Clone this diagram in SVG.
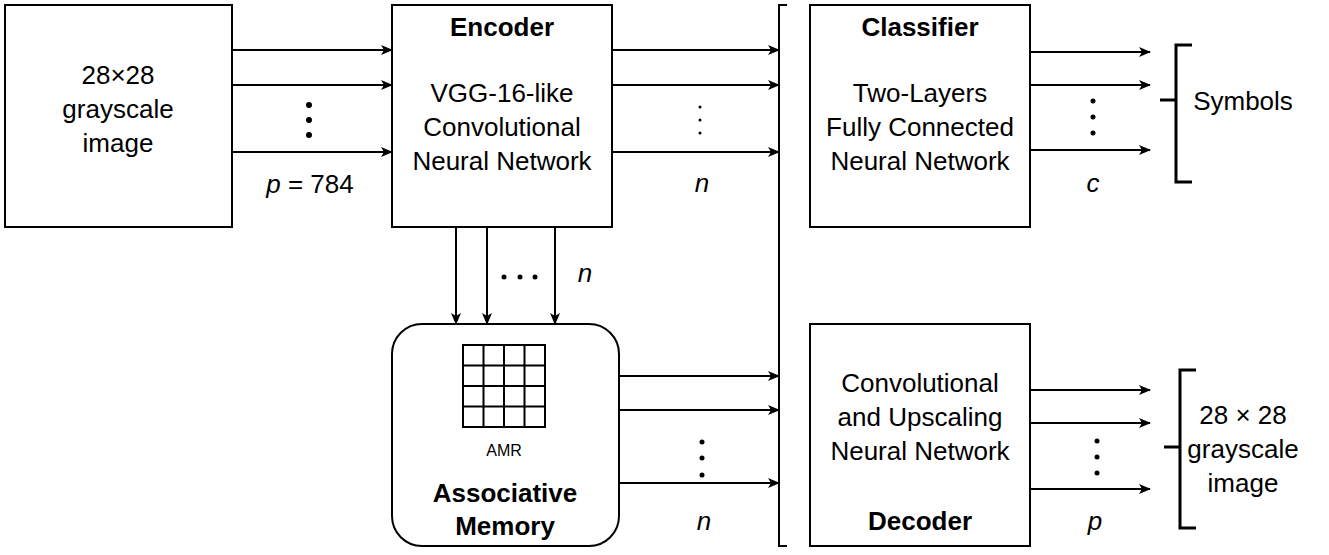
<svg xmlns="http://www.w3.org/2000/svg" width="1329" height="555" viewBox="0 0 1329 555">
<style>
.b{fill:#fff;stroke:#000;stroke-width:2}
.l{stroke:#000;stroke-width:2;fill:none}
.c path{stroke:#000;stroke-width:2;fill:none;marker-end:url(#a)}
text{font-family:"Liberation Sans",Arial,sans-serif;font-size:26px;text-anchor:middle;fill:#000}
.t{font-weight:bold}
.i{font-style:italic}
.d{fill:#000}
</style>
<defs><marker id="a" markerWidth="12" markerHeight="10" refX="11" refY="5" orient="auto" markerUnits="userSpaceOnUse"><path d="M0,0L12,5L0,10L3,5z" fill="#000" stroke="none"/></marker></defs>
<rect width="1329" height="555" fill="#fff"/>
<g id="input"><rect class="b" x="5" y="5" width="227" height="222"/><text x="118" y="84">28×28</text><text x="118" y="118">grayscale</text><text x="118" y="152">image</text></g>
<g id="encoder"><rect class="b" x="392" y="5" width="220" height="222"/><text class="t" x="502" y="36">Encoder</text><text x="502" y="102">VGG-16-like</text><text x="502" y="136">Convolutional</text><text x="502" y="170">Neural Network</text></g>
<g id="classifier"><rect class="b" x="810" y="5" width="220" height="222"/><text class="t" x="920" y="36">Classifier</text><text x="920" y="102">Two-Layers</text><text x="920" y="136">Fully Connected</text><text x="920" y="170">Neural Network</text></g>
<g id="decoder"><rect class="b" x="810" y="324" width="220" height="222"/><text x="920" y="392">Convolutional</text><text x="920" y="426">and Upscaling</text><text x="920" y="460">Neural Network</text><text class="t" x="920" y="530">Decoder</text></g>
<g id="memory"><rect class="b" x="392" y="324" width="227" height="222" rx="30"/>
<path class="l" d="M463,345h82v82h-82zM463,365.5h82M463,386h82M463,406.5h82M483.5,345v82M504,345v82M524.5,345v82"/>
<text x="504" y="456" style="font-size:16px">AMR</text><text class="t" x="505" y="502">Associative</text><text class="t" x="505" y="535">Memory</text></g>
<g id="connectors" class="c">
<path d="M232,50H392"/><path d="M232,85H392"/><path d="M232,152H392"/>
<path d="M612,50H779"/><path d="M612,85H779"/><path d="M612,152H779"/>
<path d="M1030,52H1150"/><path d="M1030,85H1150"/><path d="M1030,150H1150"/>
<path d="M1030,390H1150"/><path d="M1030,423H1150"/><path d="M1030,489H1150"/>
<path d="M619,376H779"/><path d="M619,410H779"/><path d="M619,483H779"/>
<path d="M456,227V324"/><path d="M487,227V324"/><path d="M555,227V324"/>
</g>
<g id="brackets">
<path class="l" d="M787,5H779V546H787"/>
<path class="l" style="stroke-width:3" d="M1192,45H1176V182H1192M1160,100H1176M1196,370H1180V528H1196M1164,447H1180"/>
</g>
<g id="dots" class="d">
<circle cx="309" cy="105" r="3"/><circle cx="309" cy="120" r="3"/><circle cx="309" cy="135" r="3"/>
<circle cx="700" cy="107" r="1.5"/><circle cx="700" cy="120" r="1.5"/><circle cx="700" cy="133" r="1.5"/>
<circle cx="1093" cy="101" r="2.5"/><circle cx="1093" cy="117" r="2.5"/><circle cx="1093" cy="133" r="2.5"/>
<circle cx="1097" cy="441" r="2.5"/><circle cx="1097" cy="457" r="2.5"/><circle cx="1097" cy="473" r="2.5"/>
<circle cx="702" cy="442" r="2.5"/><circle cx="702" cy="458" r="2.5"/><circle cx="702" cy="475" r="2.5"/>
<circle cx="504" cy="277" r="2.5"/><circle cx="520" cy="277" r="2.5"/><circle cx="535" cy="277" r="2.5"/>
</g>
<g id="labels">
<text x="310" y="193"><tspan class="i">p</tspan> = 784</text>
<text class="i" x="702" y="192">n</text><text class="i" x="1093" y="192">c</text>
<text class="i" x="585" y="282">n</text><text class="i" x="704" y="530">n</text><text class="i" x="1095" y="530">p</text>
<text x="1243" y="110">Symbols</text>
<text x="1243" y="424">28 × 28</text><text x="1243" y="458">grayscale</text><text x="1243" y="492">image</text>
</g>
</svg>
